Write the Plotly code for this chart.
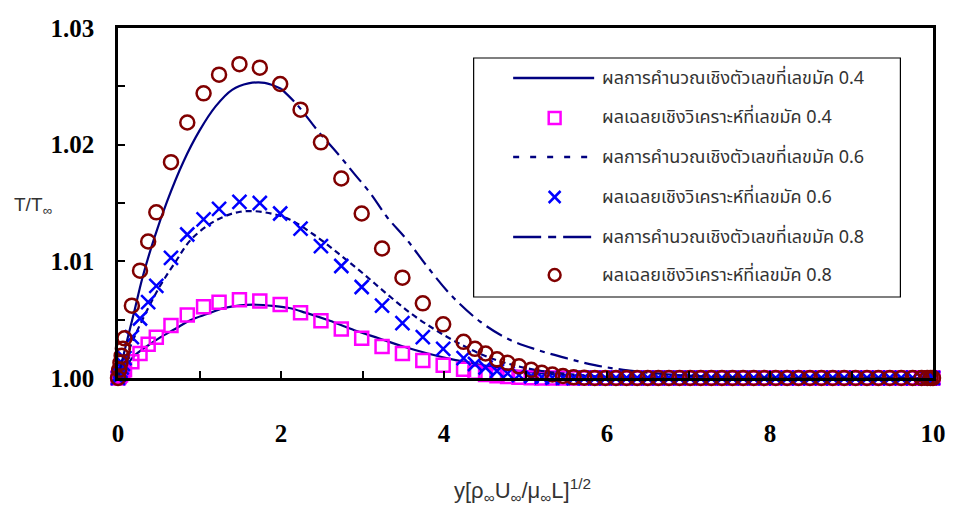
import plotly.graph_objects as go
import numpy as np

# ---------------- data ----------------
MARKER_X = [0.0, 0.015, 0.03, 0.045, 0.06, 0.08, 0.17, 0.27, 0.37, 0.47,
            0.65, 0.85, 1.05, 1.24, 1.49, 1.74, 1.99, 2.24, 2.49, 2.74,
            2.99, 3.24, 3.49, 3.74, 3.99, 4.24, 4.38, 4.51, 4.65, 4.78,
            4.92, 5.07, 5.20, 5.33, 5.46, 5.59, 5.72, 5.85, 5.98, 6.11,
            6.24, 6.37, 6.50, 6.63, 6.76, 6.89, 7.02, 7.15, 7.28, 7.41,
            7.54, 7.67, 7.80, 7.93, 8.07, 8.21, 8.35, 8.49, 8.63, 8.77,
            8.91, 9.05, 9.19, 9.33, 9.47, 9.61, 9.75, 9.86, 9.93, 9.97, 10.0]

ANA_M04 = [1.0, 1.00012, 1.00025, 1.00038, 1.0005, 1.0007, 1.0014, 1.0021, 1.0029, 1.0035,
           1.0045, 1.0054, 1.0061, 1.0065, 1.0067, 1.0066, 1.0063, 1.0056, 1.0049, 1.0042,
           1.0034, 1.0027, 1.0021, 1.0015, 1.0011, 1.00075, 1.0005, 1.0003, 1.0002, 1.00012,
           1.00006, 1.00003, 1.0, 1.0, 1.0, 1.0, 1.0, 1.0, 1.0, 1.0,
           1.0, 1.0, 1.0, 1.0, 1.0, 1.0, 1.0, 1.0, 1.0, 1.0,
           1.0, 1.0, 1.0, 1.0, 1.0, 1.0, 1.0, 1.0, 1.0, 1.0,
           1.0, 1.0, 1.0, 1.0, 1.0, 1.0, 1.0, 1.0, 1.0, 1.0, 1.0]

ANA_M06 = [1.0, 1.0003, 1.0006, 1.0009, 1.0012, 1.0017, 1.0035, 1.0051, 1.0065, 1.0079,
           1.0103, 1.0123, 1.0136, 1.0145, 1.0151, 1.0150, 1.0141, 1.0128, 1.0113, 1.0096,
           1.0078, 1.0062, 1.0047, 1.0035, 1.0025, 1.0017, 1.0012, 1.0009, 1.0006, 1.0004,
           1.00025, 1.00015, 1.00008, 1.00004, 1.00002, 1.0, 1.0, 1.0, 1.0, 1.0,
           1.0, 1.0, 1.0, 1.0, 1.0, 1.0, 1.0, 1.0, 1.0, 1.0,
           1.0, 1.0, 1.0, 1.0, 1.0, 1.0, 1.0, 1.0, 1.0, 1.0,
           1.0, 1.0, 1.0, 1.0, 1.0, 1.0, 1.0, 1.0, 1.0, 1.0, 1.0]

ANA_M08 = [1.0, 1.0007, 1.0013, 1.0019, 1.0025, 1.0034, 1.0062, 1.0092, 1.0117, 1.0142,
           1.0185, 1.0219, 1.0244, 1.0260, 1.0269, 1.0266, 1.0252, 1.0230, 1.0202, 1.0171,
           1.0141, 1.0111, 1.0086, 1.0064, 1.0046, 1.0031, 1.0025, 1.0021, 1.0016, 1.0013,
           1.0010, 1.0007, 1.00045, 1.0003, 1.00017, 1.00006, 1.00003, 1.00001, 1.0, 1.0,
           1.0, 1.0, 1.0, 1.0, 1.0, 1.0, 1.0, 1.0, 1.0, 1.0,
           1.0, 1.0, 1.0, 1.0, 1.0, 1.0, 1.0, 1.0, 1.0, 1.0,
           1.0, 1.0, 1.0, 1.0, 1.0, 1.0, 1.0, 1.0, 1.0, 1.0, 1.0]

NUM04_X = [0.0, 0.1, 0.2, 0.35, 0.5, 0.7, 0.9, 1.1, 1.3, 1.5, 1.7, 1.9, 2.1, 2.3,
           2.6, 2.9, 3.2, 3.5, 3.8, 4.1, 4.4, 4.8, 5.2, 5.6, 6.0, 6.5, 7.0, 10.0]
NUM04_Y = [1.0, 1.0010, 1.0019, 1.0027, 1.0034, 1.0042, 1.0050, 1.0055, 1.0060, 1.00623,
           1.00628, 1.00618, 1.0060, 1.0056, 1.0049, 1.0041, 1.0034, 1.0027, 1.0021, 1.0016,
           1.0012, 1.0007, 1.0004, 1.0002, 1.0001, 1.00003, 1.0, 1.0]

NUM06_X = [0.0, 0.1, 0.2, 0.3, 0.5, 0.7, 0.9, 1.2, 1.5, 1.8, 2.1, 2.4, 2.7, 3.0,
           3.3, 3.6, 3.9, 4.2, 4.5, 4.8, 5.2, 5.6, 6.0, 6.5, 7.0, 10.0]
NUM06_Y = [1.0, 1.0018, 1.0035, 1.0050, 1.0077, 1.0099, 1.0119, 1.0135, 1.01425, 1.0142,
           1.0136, 1.0123, 1.0107, 1.0090, 1.0072, 1.0055, 1.0041, 1.0029, 1.0019, 1.0012,
           1.0006, 1.0003, 1.0001, 1.00003, 1.0, 1.0]

NUM08_X = [0.0, 0.1, 0.2, 0.3, 0.45, 0.6, 0.8, 1.0, 1.2, 1.4, 1.6, 1.8, 2.0, 2.2,
           2.45, 2.7, 2.9, 3.1, 3.3, 3.55, 3.8, 4.1, 4.45, 4.8, 5.15, 5.5, 5.85, 6.2,
           6.6, 7.0, 7.5, 8.0, 10.0]
NUM08_Y = [1.0, 1.0029, 1.0057, 1.0086, 1.0121, 1.0151, 1.0185, 1.0212, 1.0233, 1.0247,
           1.02525, 1.0253, 1.0248, 1.0234, 1.0212, 1.0192, 1.0175, 1.0158, 1.0138, 1.0118,
           1.0095, 1.0070, 1.0048, 1.0033, 1.0024, 1.0017, 1.0011, 1.0007, 1.0004, 1.0002,
           1.00008, 1.00003, 1.0]

LEGEND_LABELS = [
    "ผลการคำนวณเชิงตัวเลขที่เลขมัค 0.4",
    "ผลเฉลยเชิงวิเคราะห์ที่เลขมัค 0.4",
    "ผลการคำนวณเชิงตัวเลขที่เลขมัค 0.6",
    "ผลเฉลยเชิงวิเคราะห์ที่เลขมัค 0.6",
    "ผลการคำนวณเชิงตัวเลขที่เลขมัค 0.8",
    "ผลเฉลยเชิงวิเคราะห์ที่เลขมัค 0.8",
]
X_TICKS = [0, 2, 4, 6, 8, 10]
Y_TICKS = [1.00, 1.01, 1.02, 1.03]
X_TITLE = "y[ρ<sub>∞</sub>U<sub>∞</sub>/μ<sub>∞</sub>L]<sup>1/2</sup>"
Y_TITLE = "T/T<sub>∞</sub>"

# ---------------- styling ----------------
NAVY = "#000080"
MAGENTA = "#FF00FF"
BLUE = "#0000FF"
DARKRED = "#800000"
THAI_FONT = "Noto Sans Thai, Tahoma, DejaVu Sans, Liberation Sans, sans-serif"
SANS = "Liberation Sans, Arial, sans-serif"

W, H = 958, 507
ML, MR, MT, MB = 118, 15, 28, 129
PW, PH = W - ML - MR, H - MT - MB


def px(x):
    return (x - ML) / PW


def py(y):
    return (H - MB - y) / PH


fig = go.Figure()

# numerical M0.4 (solid)
fig.add_trace(go.Scatter(x=NUM04_X, y=NUM04_Y, mode="lines", line=dict(color=NAVY, width=2.2),
                         line_shape="spline", showlegend=False))
# analytical M0.4 squares
fig.add_trace(go.Scatter(x=MARKER_X, y=ANA_M04, mode="markers", cliponaxis=False,
                         marker=dict(symbol="square-open", size=13, color=MAGENTA,
                                     line=dict(width=2.5, color=MAGENTA)), showlegend=False))
# numerical M0.6 (dotted)
fig.add_trace(go.Scatter(x=NUM06_X, y=NUM06_Y, mode="lines", line_shape="spline",
                         line=dict(color=NAVY, width=2.2, dash="6px,4px"), showlegend=False))
# analytical M0.6 crosses
fig.add_trace(go.Scatter(x=MARKER_X, y=ANA_M06, mode="markers", cliponaxis=False,
                         marker=dict(symbol="x-thin-open", size=14, color=BLUE,
                                     line=dict(width=2.5, color=BLUE)), showlegend=False))
# numerical M0.8 (dash-dot; rising part appears continuous in the reference)
n8x = np.array(NUM08_X)
n8y = np.array(NUM08_Y)
rise = n8x <= 2.0
fall = n8x >= 2.0
fig.add_trace(go.Scatter(x=n8x[rise], y=n8y[rise], mode="lines", line_shape="spline",
                         line=dict(color=NAVY, width=2.2), showlegend=False))
fig.add_trace(go.Scatter(x=n8x[fall], y=n8y[fall], mode="lines", line_shape="spline",
                         line=dict(color=NAVY, width=2.2, dash="18px,6px,5px,6px"), showlegend=False))
# analytical M0.8 circles
fig.add_trace(go.Scatter(x=MARKER_X, y=ANA_M08, mode="markers", cliponaxis=False,
                         marker=dict(symbol="circle-open", size=14, color=DARKRED,
                                     line=dict(width=2.5, color=DARKRED)), showlegend=False))

# ---------------- custom legend ----------------
shapes = []
annotations = []
box = dict(x0=478, x1=910, y0=58, y1=297)
shapes.append(dict(type="rect", xref="paper", yref="paper",
                   x0=px(box["x0"]), x1=px(box["x1"]), y0=py(box["y1"]), y1=py(box["y0"]),
                   line=dict(color="black", width=1.2), fillcolor="white", layer="above"))
rows = [78, 118, 157, 197, 237, 275]
lx0, lx1, mcx = 518, 600, 560
line_dashes = ["solid", "6px,11px", "28px,7px,8px,7px"]
for i, (row, lab) in enumerate(zip(rows, LEGEND_LABELS)):
    annotations.append(dict(xref="paper", yref="paper", x=px(606), y=py(row), xanchor="left",
                            yanchor="middle", text=lab, showarrow=False,
                            font=dict(family=THAI_FONT, size=18, color="#333333")))
    if i % 2 == 0:
        shapes.append(dict(type="line", xref="paper", yref="paper", x0=px(lx0), x1=px(lx1),
                           y0=py(row), y1=py(row), layer="above",
                           line=dict(color=NAVY, width=2.5, dash=line_dashes[i // 2])))
s = 6
shapes.append(dict(type="rect", xref="paper", yref="paper", x0=px(mcx - s), x1=px(mcx + s),
                   y0=py(rows[1] + s), y1=py(rows[1] - s), layer="above",
                   line=dict(color=MAGENTA, width=2.5)))
for d in (1, -1):
    shapes.append(dict(type="line", xref="paper", yref="paper", x0=px(mcx - s), x1=px(mcx + s),
                       y0=py(rows[3] + d * s), y1=py(rows[3] - d * s), layer="above",
                       line=dict(color=BLUE, width=2.5)))
shapes.append(dict(type="circle", xref="paper", yref="paper", x0=px(mcx - s), x1=px(mcx + s),
                   y0=py(rows[5] + s), y1=py(rows[5] - s), layer="above",
                   line=dict(color=DARKRED, width=2.5)))

# axis titles
annotations.append(dict(xref="paper", yref="paper", x=px(527), y=py(490), xanchor="center",
                        yanchor="middle", text=X_TITLE, showarrow=False,
                        font=dict(family=SANS, size=22, color="#333333")))
annotations.append(dict(xref="paper", yref="paper", x=px(11), y=py(206), xanchor="left",
                        yanchor="middle", text=Y_TITLE, showarrow=False,
                        font=dict(family=SANS, size=19, color="#333333")))

tickfont = dict(family="Liberation Serif, Times New Roman, serif",
                size=25, color="black", weight="bold")

fig.update_layout(
    width=W, height=H,
    margin=dict(l=ML, r=MR, t=MT, b=MB),
    paper_bgcolor="white", plot_bgcolor="white",
    shapes=shapes, annotations=annotations,
    xaxis=dict(range=[0, 10], tickvals=X_TICKS, ticktext=[str(v) for v in X_TICKS],
               ticks="inside", ticklen=7, tickwidth=1.5, tickcolor="black",
               minor=dict(dtick=1, ticks="inside", ticklen=7, tickwidth=1.5, tickcolor="black"),
               showline=True, linecolor="black", linewidth=2.5, mirror=True,
               showgrid=False, zeroline=False, tickfont=tickfont, ticklabelstandoff=31,
               ticklabeloverflow="allow"),
    yaxis=dict(range=[1.0, 1.03], tickvals=Y_TICKS, ticktext=["%.2f" % v for v in Y_TICKS],
               ticks="inside", ticklen=7, tickwidth=1.5, tickcolor="black",
               minor=dict(dtick=0.005, ticks="inside", ticklen=7, tickwidth=1.5, tickcolor="black"),
               showline=True, linecolor="black", linewidth=2.5, mirror=True,
               showgrid=False, zeroline=False, tickfont=tickfont, ticklabelstandoff=16,
               ticklabeloverflow="allow"),
)

fig.write_html("out.html", config={"displayModeBar": False},
               post_script="document.body.style.margin='0px';")
